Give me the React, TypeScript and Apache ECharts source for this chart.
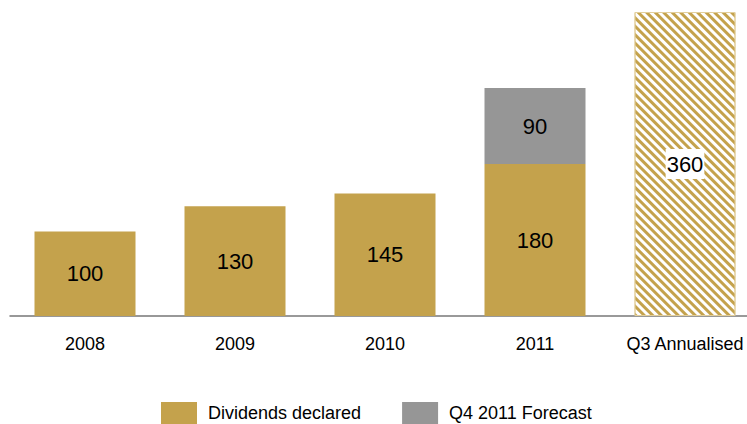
import React, { useEffect, useRef } from "react";
import * as echarts from "echarts";

const categories = ["2008", "2009", "2010", "2011", "Q3 Annualised"];
const dividendsDeclared = [100, 130, 145, 180, null];
const q4Forecast = [null, null, null, 90, null];
const q3Annualised = [null, null, null, null, 360];

const GOLD = "#C4A24C";
const GREY = "#969696";
const FONT = "'Liberation Sans', Arial, sans-serif";

export default function App() {
  const ref = useRef<HTMLDivElement>(null);
  useEffect(() => {
    if (!ref.current) return;
    const chart = echarts.init(ref.current, null, { renderer: "svg" });
    const label = {
      show: true,
      position: "inside",
      fontSize: 22,
      color: "#000",
      fontFamily: FONT,
      padding: [4, 0, 0, 0],
    };
    chart.setOption({
      animation: false,
      backgroundColor: "#fff",
      textStyle: { fontFamily: FONT },
      grid: { left: 10, top: 12, width: 750, height: 304, containLabel: false },
      legend: {
        left: 161,
        top: 402,
        padding: 0,
        itemWidth: 36,
        itemHeight: 22,
        itemGap: 41,
        icon: "rect",
        data: ["Dividends declared", "Q4 2011 Forecast"],
        textStyle: {
          fontSize: 18,
          lineHeight: 18,
          color: "#000",
          fontFamily: FONT,
          padding: [2, 0, 0, 6],
        },
      },
      xAxis: {
        type: "category",
        data: categories,
        axisLine: { lineStyle: { color: "#777", width: 1.5 } },
        axisTick: { show: false },
        axisLabel: { interval: 0, fontSize: 18, color: "#000", margin: 19, fontFamily: FONT },
      },
      yAxis: {
        type: "value",
        min: 0,
        max: 360,
        show: false,
        splitLine: { show: false },
      },
      series: [
        {
          name: "Dividends declared",
          type: "bar",
          stack: "a",
          barWidth: 101,
          data: dividendsDeclared,
          itemStyle: { color: GOLD },
          label,
        },
        {
          name: "Q4 2011 Forecast",
          type: "bar",
          stack: "a",
          barWidth: 101,
          data: q4Forecast,
          itemStyle: { color: GREY },
          label,
        },
        {
          name: "Q3 Annualised",
          type: "bar",
          stack: "a",
          barWidth: 101,
          data: q3Annualised,
          itemStyle: {
            color: "#fff",
            borderColor: "#E2CF9C",
            borderWidth: 1,
            decal: {
              symbol: "rect",
              color: GOLD,
              dashArrayX: [1, 0],
              dashArrayY: [3, 2.5],
              rotation: Math.PI / 4,
            },
          },
          label: {
            ...label,
            backgroundColor: "#fff",
            padding: [6, 1, 2, 1],
          },
        },
      ],
    });
    return () => chart.dispose();
  }, []);
  return (
    <div style={{ position: "fixed", left: 0, top: 0, width: 747, height: 424, overflow: "hidden" }}>
      <div ref={ref} style={{ width: 770, height: 424 }} />
    </div>
  );
}
